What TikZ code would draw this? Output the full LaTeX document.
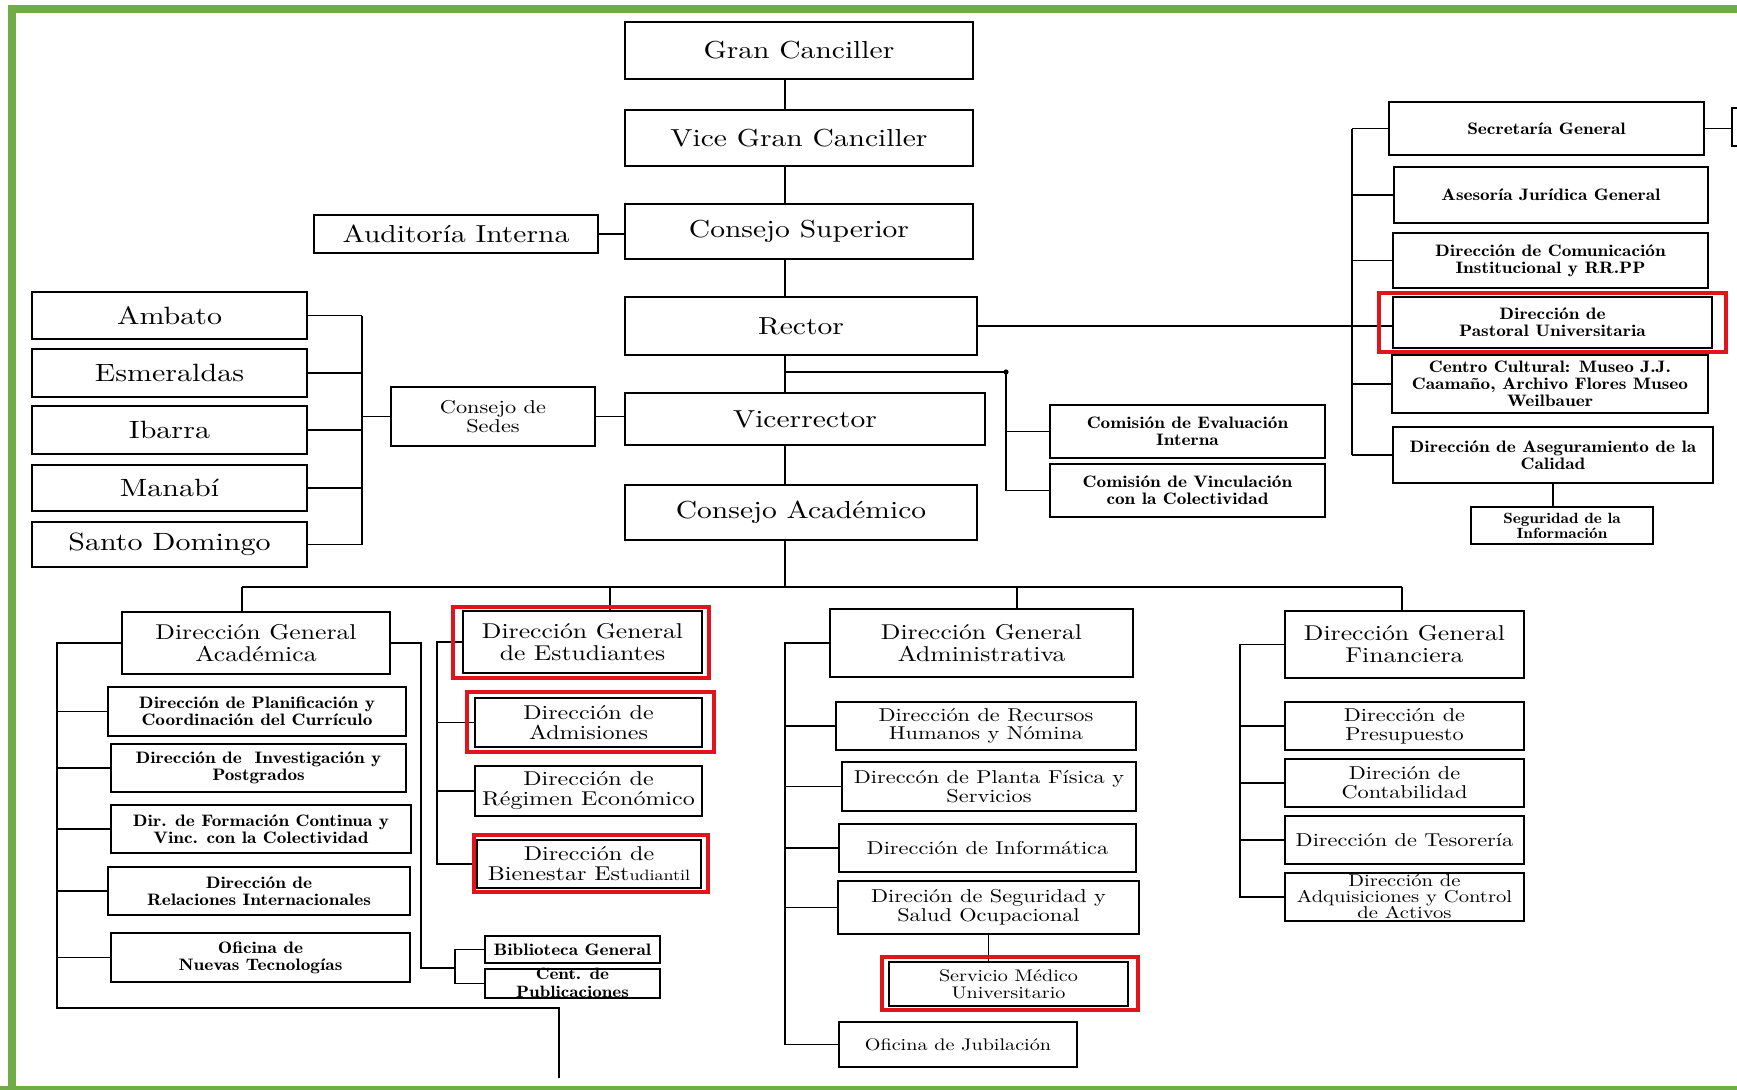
\documentclass[tikz,border=0pt]{standalone}
\usepackage{fontspec}
\setmainfont{lmroman10-regular.otf}[FakeStretch=1.2]
\newfontfamily\demifont{lmromandemi10-regular.otf}[FakeStretch=1.16]
\usepackage{tikz}
\definecolor{framegreen}{HTML}{70AD47}
\definecolor{markred}{HTML}{E1141C}
\tikzset{
    box/.style={draw, line width=1pt, inner sep=0pt, align=center},
    wh/.style 2 args={minimum width=#1, minimum height=#2},
    lbl/.style={inner sep=0pt, align=center},
    conn/.style={line width=0.8pt},
    hl/.style={draw=markred, line width=1.6pt},
    txtbig/.style={font=\fontsize{12.3}{13}\selectfont},
    txtsede/.style={font=\fontsize{12.5}{13}\selectfont},
    txthead/.style={font=\fontsize{10.7}{11}\selectfont},
    txtstu/.style={font=\fontsize{10}{10}\selectfont},
    txtmid/.style={font=\fontsize{9.3}{9.4}\selectfont},
    txtplain/.style={font=\fontsize{8.4}{8.5}\selectfont},
    txtsmall/.style={font=\demifont\fontsize{8.3}{8.5}\selectfont},
    txttiny/.style={font=\demifont\fontsize{7.4}{7.6}\selectfont}
}

\begin{document}
\begin{tikzpicture}[x=0.5pt, y=-0.5pt]
    \useasboundingbox (0,0) rectangle (1737,1089);
    \fill[white] (0,0) rectangle (1737,1089);
    % - Green frame
    \draw[framegreen, line width=4pt] (12,1089) -- (12,9) -- (1737,9);
    \draw[framegreen, line width=4pt] (0,1090) -- (1737,1090);
    % - Main column
    \node[box, txtbig, wh={174pt}{28.5pt}] (gc) at (799,50.5) {Gran Canciller};
    \node[box, txtbig, wh={174pt}{28pt}] (vgc) at (799,138) {Vice Gran Canciller};
    \node[box, txtbig, wh={174pt}{27.5pt}] (cs) at (799,231.5) {Consejo Superior};
    \node[box, txtbig, wh={142pt}{19pt}] (ai) at (456,234) {Auditoría Interna};
    \node[box, txtbig, wh={176pt}{29pt}] (rector) at (801,326) {Rector};
    \node[box, txtbig, wh={180pt}{26pt}] (vr) at (805,419) {Vicerrector};
    \node[box, txtbig, wh={176pt}{27.5pt}] (ca) at (801,512.5) {Consejo Académico};
    % - Sedes
    \node[box, txtsede, wh={137.5pt}{23.5pt}] (amb) at (169.5,315.5) {Ambato};
    \node[box, txtsede, wh={137.5pt}{24pt}] (esm) at (169.5,373) {Esmeraldas};
    \node[box, txtsede, wh={137.5pt}{24pt}] (iba) at (169.5,430) {Ibarra};
    \node[box, txtsede, wh={137.5pt}{23pt}] (man) at (169.5,488) {Manabí};
    \node[box, txtsede, wh={137.5pt}{22.5pt}] (sdo) at (169.5,544.5) {Santo Domingo};
    \node[box, txtmid, wh={102pt}{29.5pt}] (cds) at (493,416.5) {Consejo de\\Sedes};
    % - Comisiones
    \node[box, txtsmall, wh={137.5pt}{26.5pt}] (cei) at (1187.5,431.5) {Comisión de Evaluación\\Interna};
    \node[box, txtsmall, wh={137.5pt}{26.5pt}] (cvc) at (1187.5,490.5) {Comisión de Vinculación\\con la Colectividad};
    % - Right column
    \node[box, txtsmall, wh={157.5pt}{26.5pt}] (sg) at (1546.5,128.5) {Secretaría General};
    \node[box, wh={20pt}{19pt}] (sgx) at (1752,127) {};
    \node[box, txtsmall, wh={157pt}{28pt}] (aj) at (1551,195) {Asesoría Jurídica General};
    \node[box, txtsmall, wh={157.5pt}{27.5pt}] (dci) at (1550.5,260.5) {Dirección de Comunicación\\Institucional y RR.PP};
    \node[box, txtsmall, wh={159.5pt}{25.5pt}] (pas) at (1552.5,322.5) {Dirección de\\Pastoral Universitaria};
    \node[box, txtsmall, wh={158pt}{29pt}] (cc) at (1550,384) {Centro Cultural: Museo J.J.\\Caamaño, Archivo Flores Museo\\Weilbauer};
    \node[box, txtsmall, wh={160pt}{28pt}] (asc) at (1553,455) {Dirección de Aseguramiento de la\\Calidad};
    \node[box, txttiny, wh={91pt}{18.5pt}] (sdi) at (1562,525.5) {Seguridad de la\\Información};
    % - Direccion General Academica
    \node[box, txthead, wh={134pt}{31pt}] (dga) at (256,643) {Dirección General\\Académica};
    \node[box, txtsmall, wh={149pt}{24.5pt}] (plan) at (257,711.5) {Dirección de Planificación y\\Coordinación del Currículo};
    \node[box, txtsmall, wh={147.5pt}{24pt}] (inv) at (258.5,768) {Dirección de\ \ Investigación y\\Postgrados};
    \node[box, txtsmall, wh={150pt}{24pt}] (form) at (261,829) {Dir. de Formación Continua y\\Vinc. con la Colectividad};
    \node[box, txtsmall, wh={151pt}{24pt}] (rel) at (259,891) {Dirección de\\Relaciones Internacionales};
    \node[box, txtsmall, wh={149.5pt}{24.5pt}] (ont) at (260.5,957.5) {Oficina de\\Nuevas Tecnologías};
    \node[box, txtsmall, wh={87.5pt}{13.5pt}] (bib) at (572.5,949.5) {Biblioteca General};
    \node[lbl, font=\demifont\fontsize{8.2}{9}\selectfont] at (572.5,983) {Cent. de\\Publicaciones};
    \node[box, wh={87.5pt}{14.5pt}] (cdp) at (572.5,983.5) {};
    % - Direccion General de Estudiantes
    \node[box, txthead, wh={119.5pt}{31pt}] (dge) at (582.5,642) {Dirección General\\de Estudiantes};
    \node[box, txtstu, wh={113.5pt}{24.5pt}] (adm) at (588.5,722.5) {Dirección de\\Admisiones};
    \node[box, txtstu, wh={113.5pt}{25pt}] (reg) at (588.5,791) {Dirección de\\Régimen Económico};
    \node[box, txtstu, wh={112pt}{24pt}] (bie) at (589,864) {Dirección de\\Bienestar Est{\fontsize{7.5}{8}\selectfont udiantil}};
    % - Direccion General Administrativa
    \node[box, txthead, wh={151.5pt}{34pt}] (dgad) at (981.5,643) {Dirección General\\Administrativa};
    \node[box, txtmid, wh={150pt}{24pt}] (rrhh) at (986,726) {Dirección de Recursos\\Humanos y Nómina};
    \node[box, txtmid, wh={147pt}{24.5pt}] (pf) at (989,786.5) {Direccón de Planta Física y\\Servicios};
    \node[box, txtmid, wh={148.5pt}{24pt}] (inf) at (987.5,848) {Dirección de Informática};
    \node[box, txtmid, wh={150.5pt}{26.5pt}] (seg) at (988.5,907.5) {Direción de Seguridad y\\Salud Ocupacional};
    \node[box, txtplain, wh={119.5pt}{22pt}] (sm) at (1008.5,984) {Servicio Médico\\Universitario};
    \node[box, txtplain, wh={119pt}{22.5pt}] (jub) at (958,1044.5) {Oficina de Jubilación};
    % - Direccion General Financiera
    \node[box, txthead, wh={119.5pt}{33.5pt}] (dgf) at (1404.5,644.5) {Dirección General\\Financiera};
    \node[box, txtmid, wh={119.5pt}{24pt}] (pre) at (1404.5,726) {Dirección de\\Presupuesto};
    \node[box, txtmid, wh={119.5pt}{24pt}] (con) at (1404.5,783) {Direción de\\Contabilidad};
    \node[box, txtmid, wh={119.5pt}{24pt}] (tes) at (1404.5,840) {Dirección de Tesorería};
    \node[lbl, font=\fontsize{8.6}{8}\selectfont] at (1404.5,897) {Dirección de\\Adquisiciones y Control\\de Activos};
    \node[box, wh={119.5pt}{24pt}] (adq) at (1404.5,897) {};
    % - Helper coordinates
    \coordinate (spine) at (785,0);
    \coordinate (bus) at (0,587);
    \coordinate (tA) at (242,587);
    \coordinate (tB) at (610,587);
    \coordinate (tC) at (1017,587);
    \coordinate (tD) at (1402,587);
    \coordinate (sbus) at (362,0);
    \coordinate (rbus) at (1352,0);
    \coordinate (combus) at (1006,372);
    \coordinate (abus) at (57,0);
    \coordinate (abot) at (559,1008);
    \coordinate (aend) at (559,1078);
    \coordinate (bturn) at (421,968);
    \coordinate (bbus) at (455,0);
    \coordinate (ebus) at (437,0);
    \coordinate (fbus) at (1240,0);
    % - Main spine
    \draw[conn] (gc.south -| spine) -- (vgc.north -| spine);
    \draw[conn] (vgc.south -| spine) -- (cs.north -| spine);
    \draw[conn] (cs.south -| spine) -- (rector.north -| spine);
    \draw[conn] (rector.south -| spine) -- (vr.north -| spine);
    \draw[conn] (vr.south -| spine) -- (ca.north -| spine);
    \draw[conn] (ca.south -| spine) -- (bus -| spine);
    \draw[conn] (ai.east) -- (ai.east -| cs.west);
    \draw[conn] (rector.east) -- (rector.east -| pas.west);
    % - Sedes bracket
    \foreach \n in {amb,esm,iba,man,sdo}
        \draw[conn] (\n.east) -- (\n.east -| sbus);
    \draw[conn] (amb.east -| sbus) -- (sdo.east -| sbus);
    \draw[conn] (cds.west -| sbus) -- (cds.west);
    \draw[conn] (cds.east) -- (cds.east -| vr.west);
    % - Comisiones
    \draw[conn] (combus -| spine) -- (combus) -- (combus |- cvc.west) -- (cvc.west);
    \draw[conn] (combus |- cei.west) -- (cei.west);
    \fill (combus) circle (1.3pt);
    % - Right bracket
    \draw[conn] (sg.west -| rbus) -- (asc.west -| rbus);
    \foreach \n in {sg,aj,dci,cc,asc}
        \draw[conn] (\n.west -| rbus) -- (\n.west);
    \draw[conn] (sg.east) -- (sg.east -| sgx.west);
    \draw[conn] (asc.south) -- (asc.south |- sdi.north);
    % - Lower bus
    \draw[conn] (tA) -- (tD);
    \draw[conn] (tA) -- (tA |- dga.north);
    \draw[conn] (tB) -- (tB |- dge.north);
    \draw[conn] (tC) -- (tC |- dgad.north);
    \draw[conn] (tD) -- (tD |- dgf.north);
    % - Academica
    \draw[conn] (dga.west) -- (dga.west -| abus) -- (abus |- abot) -- (abot) -- (aend);
    \foreach \n in {plan,inv,form,rel,ont}
        \draw[conn] (\n.west -| abus) -- (\n.west);
    \draw[conn] (dga.east) -| (bturn) -- (bturn -| bbus);
    \draw[conn] (bib.west) -- (bib.west -| bbus) -- (cdp.west -| bbus) -- (cdp.west);
    % - Estudiantes
    \draw[conn] (dge.west) -- (dge.west -| ebus) -- (bie.west -| ebus) -- (bie.west);
    \foreach \n in {adm,reg}
        \draw[conn] (\n.west -| ebus) -- (\n.west);
    % - Administrativa
    \draw[conn] (dgad.west) -- (dgad.west -| spine) -- (jub.west -| spine) -- (jub.west);
    \foreach \n in {rrhh,pf,inf,seg}
        \draw[conn] (\n.west -| spine) -- (\n.west);
    \draw[conn] (seg.south) -- (seg.south |- sm.north);
    % - Financiera
    \draw[conn] (dgf.west) -- (dgf.west -| fbus) -- (adq.west -| fbus) -- (adq.west);
    \foreach \n in {pre,con,tes}
        \draw[conn] (\n.west -| fbus) -- (\n.west);
    % - Red marks
    \draw[hl] ([shift={(-13,-3)}]pas.north west) rectangle ([shift={(13,3)}]pas.south east);
    \draw[hl] ([shift={(-9,-3)}]dge.north west) rectangle ([shift={(6,4)}]dge.south east);
    \draw[hl] ([shift={(-7,-5)}]adm.north west) rectangle ([shift={(11,4)}]adm.south east);
    \draw[hl] ([shift={(-2,-4)}]bie.north west) rectangle ([shift={(6,3)}]bie.south east);
    \draw[hl] ([shift={(-6,-4)}]sm.north west) rectangle ([shift={(9,3)}]sm.south east);
\end{tikzpicture}
\end{document}
